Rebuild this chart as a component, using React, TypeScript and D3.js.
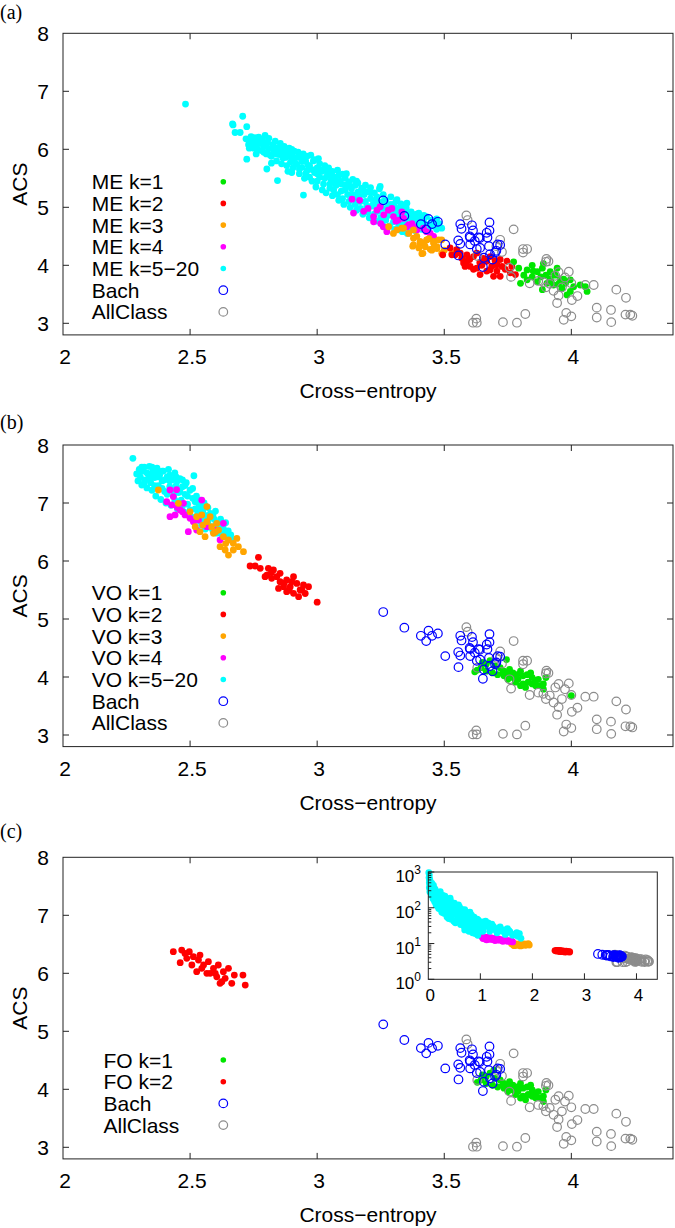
import React from 'react';
import * as d3 from 'd3';

type P = [number, number];

// ---------- axis / tick data ----------
const X_TICKS = [2, 2.5, 3, 3.5, 4];
const Y_TICKS = [3, 4, 5, 6, 7, 8];
const X_DOMAIN: [number, number] = [2, 4.4];
const Y_DOMAIN: [number, number] = [2.8, 8];
const INSET_X_TICKS = [0, 1, 2, 3, 4];
const INSET_Y_EXPONENTS = [0, 1, 2, 3];
const INSET_X_DOMAIN: [number, number] = [0, 4.4];
const INSET_Y_DOMAIN: [number, number] = [1, 1000];

// ---------- shared reference sets ----------
const BACH: P[] = [
  [3.26, 5.12], [3.343, 4.85], [3.408, 4.71], [3.429, 4.62], [3.438, 4.8], [3.452, 4.71], [3.475, 4.75],
  [3.504, 4.36], [3.556, 4.17], [3.555, 4.43], [3.563, 4.37], [3.563, 4.71], [3.568, 4.63], [3.609, 4.69],
  [3.613, 4.6], [3.602, 4.48], [3.602, 4.36], [3.6, 4.5], [3.62, 4.42], [3.635, 4.48], [3.628, 4.28],
  [3.641, 4.3], [3.652, 3.97], [3.678, 4.74], [3.678, 4.6], [3.67, 4.48], [3.676, 4.33], [3.656, 4.13],
  [3.68, 4.19], [3.69, 4.1], [3.71, 4.36], [3.705, 4.25], [3.7, 4.22], [3.64, 4.47], [3.667, 4.56], [3.72, 4.35],
];

const ALLCLASS: P[] = [
  [3.587, 4.86], [3.592, 4.78], [3.773, 4.62], [3.727, 4.23], [3.81, 4.28], [3.826, 4.28], [3.81, 4.22],
  [3.902, 4.11], [3.9, 4.06], [3.91, 4.07], [3.763, 3.8], [3.836, 3.69], [3.87, 3.73], [3.89, 3.71],
  [3.9, 3.62], [3.915, 3.68], [3.937, 3.82], [3.95, 3.88], [3.99, 3.89], [3.975, 3.79], [4.0, 3.69],
  [3.93, 3.56], [3.95, 3.48], [3.963, 3.62], [3.944, 3.35], [4.002, 3.4], [4.024, 3.47], [4.055, 3.66],
  [4.088, 3.66], [4.1, 3.27], [4.1, 3.1], [4.156, 3.23], [4.157, 3.02], [4.177, 3.58], [4.215, 3.44],
  [4.213, 3.15], [4.232, 3.15], [4.24, 3.13], [3.98, 3.18], [4.0, 3.12], [3.97, 3.06], [3.819, 3.16],
  [3.786, 3.01], [3.731, 3.02], [3.626, 3.08], [3.613, 3.01], [3.628, 3.01], [3.705, 4.33], [3.72, 4.44],
  [3.63, 4.16], [3.757, 3.96],
];

// ---------- panel (a): ME ----------
const ME_K1: P[] = [
  [3.773, 4.06], [3.793, 3.95], [3.8, 3.69], [3.826, 3.92], [3.846, 3.8], [3.866, 3.89], [3.886, 3.95],
  [3.9, 3.83], [3.917, 3.77], [3.937, 3.83], [3.957, 3.75], [3.977, 3.69], [3.963, 3.6], [3.983, 3.49],
  [4.009, 3.63], [4.035, 3.66], [4.055, 3.63], [4.062, 3.55], [3.886, 3.58], [3.866, 3.72], [3.826, 3.75],
  [3.846, 4.0], [3.904, 3.69], [3.93, 3.66], [3.944, 3.95], [3.996, 3.55], [3.89, 4.03], [3.917, 3.89],
  [3.813, 3.83], [3.996, 3.75], [3.85, 3.9], [3.88, 3.8], [3.92, 3.72], [3.95, 3.68], [3.97, 3.76],
];
const ME_K2: P[] = [
  [3.494, 4.18], [3.523, 4.3], [3.543, 4.18], [3.569, 4.12], [3.589, 4.07], [3.602, 3.98], [3.628, 3.95],
  [3.648, 4.0], [3.667, 4.07], [3.687, 3.98], [3.707, 3.9], [3.72, 3.81], [3.74, 3.93], [3.76, 3.87],
  [3.78, 3.84], [3.766, 3.98], [3.747, 4.07], [3.72, 4.1], [3.694, 3.81], [3.667, 3.9], [3.641, 3.84],
  [3.615, 3.93], [3.582, 3.98], [3.563, 4.21], [3.589, 4.18], [3.615, 4.15], [3.549, 4.27], [3.576, 4.04],
  [3.654, 4.12], [3.681, 4.15], [3.628, 4.21], [3.707, 4.01], [3.727, 3.98], [3.53, 4.18], [3.6, 4.1],
  [3.64, 4.05], [3.68, 3.92], [3.7, 4.08],
];
const ME_K3: P[] = [
  [3.281, 4.665], [3.314, 4.61], [3.333, 4.64], [3.379, 4.61], [3.392, 4.5], [3.379, 4.35], [3.412, 4.2],
  [3.405, 4.38], [3.431, 4.44], [3.458, 4.41], [3.471, 4.32], [3.49, 4.44], [3.451, 4.26], [3.425, 4.32],
  [3.379, 4.466], [3.405, 4.41], [3.432, 4.44], [3.458, 4.38], [3.478, 4.44], [3.376, 4.33], [3.416, 4.206],
  [3.445, 4.275], [3.471, 4.29], [3.49, 4.206], [3.53, 4.206], [3.34, 4.64], [3.36, 4.55], [3.3, 4.55],
  [3.42, 4.38], [3.46, 4.3], [3.5, 4.26], [3.44, 4.46], [3.4, 4.3],
];
const ME_K4: P[] = [
  [3.137, 5.14], [3.167, 5.12], [3.143, 4.9], [3.183, 4.93], [3.235, 4.95], [3.248, 5.01], [3.222, 4.84],
  [3.262, 4.87], [3.294, 4.98], [3.3, 4.84], [3.32, 4.78], [3.34, 4.81], [3.353, 4.665], [3.373, 4.72],
  [3.392, 4.61], [3.418, 4.64], [3.26, 4.665], [3.274, 4.58], [3.333, 4.92], [3.222, 4.75], [3.445, 4.55],
  [3.458, 4.5], [3.2, 4.98], [3.28, 4.95], [3.31, 4.76], [3.36, 4.7], [3.38, 4.66], [3.43, 4.58], [3.25, 4.72],
];
const ME_K5_20: P[] = [
  [2.482, 6.78], [2.669, 6.42], [2.707, 6.57], [2.667, 6.44], [2.677, 6.29], [2.697, 6.29], [2.723, 6.39],
  [2.723, 5.83], [2.733, 6.02], [2.802, 5.66], [2.844, 5.46], [2.946, 5.21],
  [2.72, 6.18], [2.73, 6.08], [2.74, 6.22], [2.745, 6.12], [2.75, 6.02], [2.755, 6.2], [2.76, 6.15], [2.76, 6.05],
  [2.77, 6.21], [2.775, 6.1], [2.78, 5.98], [2.785, 6.17], [2.79, 6.05], [2.795, 6.24], [2.8, 5.92], [2.805, 6.12], [2.81, 6.01], [2.81, 6.19],
  [2.82, 5.88], [2.825, 6.08], [2.83, 5.97], [2.835, 6.14], [2.84, 5.8], [2.845, 6.02], [2.85, 5.91], [2.855, 6.1], [2.86, 5.75], [2.86, 5.98],
  [2.87, 6.05], [2.875, 5.86], [2.88, 5.95], [2.885, 5.62], [2.89, 6.02], [2.895, 5.78], [2.9, 5.9], [2.905, 5.68], [2.91, 5.97], [2.91, 5.83],
  [2.92, 5.74], [2.925, 5.95], [2.93, 5.58], [2.935, 5.86], [2.94, 5.69], [2.945, 5.92], [2.95, 5.5], [2.955, 5.79], [2.96, 5.63], [2.96, 5.88],
  [2.97, 5.72], [2.975, 5.9], [2.98, 5.45], [2.985, 5.8], [2.99, 5.6], [2.995, 5.35], [3.0, 5.68], [3.005, 5.84], [3.01, 5.52], [3.01, 5.75],
  [3.02, 5.62], [3.025, 5.4], [3.03, 5.72], [3.035, 5.25], [3.04, 5.55], [3.045, 5.68], [3.05, 5.33], [3.055, 5.47], [3.06, 5.62], [3.06, 5.2],
  [3.07, 5.52], [3.075, 5.38], [3.08, 5.64], [3.085, 5.12], [3.09, 5.45], [3.095, 5.28], [3.1, 5.57], [3.105, 5.05], [3.11, 5.38], [3.11, 5.5],
  [3.12, 5.22], [3.125, 5.44], [3.13, 5.0], [3.135, 5.32], [3.14, 5.48], [3.145, 5.15], [3.15, 5.38], [3.155, 4.95], [3.16, 5.26], [3.16, 5.42],
  [3.17, 5.1], [3.175, 5.33], [3.18, 4.88], [3.185, 5.22], [3.19, 5.38], [3.195, 5.02], [3.2, 5.27], [3.205, 4.82], [3.21, 5.15], [3.21, 5.34],
  [3.22, 5.05], [3.225, 5.25], [3.23, 4.76], [3.235, 5.18], [3.24, 4.93], [3.245, 5.32], [3.25, 5.08], [3.255, 4.72], [3.26, 4.98], [3.26, 5.22],
  [3.27, 5.12], [3.275, 4.85], [3.28, 5.02], [3.285, 4.68], [3.29, 5.18], [3.295, 4.92], [3.3, 5.05], [3.305, 4.62], [3.31, 4.88], [3.31, 5.1],
  [3.32, 4.98], [3.325, 4.7], [3.33, 5.06], [3.335, 4.58], [3.34, 4.9], [3.345, 4.75], [3.35, 5.0], [3.355, 4.55], [3.36, 4.82],
  [3.37, 4.92], [3.375, 4.7], [3.38, 4.85], [3.385, 4.6], [3.39, 4.78], [3.4, 4.9], [3.405, 4.66], [3.41, 4.82],
  [3.42, 4.74], [3.43, 4.84], [3.44, 4.62], [3.45, 4.78], [3.46, 4.68], [3.47, 4.8], [3.48, 4.72], [3.49, 4.64],
  [3.248, 5.36], [3.314, 5.13], [3.353, 5.07],
  [2.73, 6.16], [2.75, 6.1], [2.765, 6.0], [2.78, 6.12], [2.79, 5.95], [2.8, 6.08], [2.815, 5.9], [2.83, 6.04],
  [2.84, 5.92], [2.85, 6.02], [2.865, 5.85], [2.87, 5.94], [2.88, 5.72], [2.89, 5.88], [2.9, 5.6], [2.9, 6.0],
  [2.915, 5.75], [2.92, 5.86], [2.93, 5.66], [2.94, 5.8], [2.95, 5.88], [2.955, 5.58], [2.965, 5.72], [2.97, 5.52],
  [2.98, 5.65], [2.99, 5.82], [3.0, 5.45], [3.0, 5.58], [3.015, 5.64], [3.02, 5.3], [3.03, 5.5], [3.04, 5.64],
  [3.05, 5.4], [3.055, 5.58], [3.065, 5.3], [3.07, 5.45], [3.08, 5.22], [3.085, 5.55], [3.095, 5.4], [3.1, 5.15],
  [3.11, 5.3], [3.115, 5.58], [3.125, 5.1], [3.13, 5.36], [3.14, 5.22], [3.15, 5.05], [3.155, 5.45], [3.165, 5.18],
  [3.17, 4.98], [3.18, 5.3], [3.19, 5.1], [3.2, 4.92], [3.21, 5.25], [3.215, 5.02], [3.225, 4.88], [3.23, 5.12],
  [3.24, 5.02], [3.25, 4.82], [3.26, 5.1], [3.27, 4.78], [3.28, 4.92], [3.29, 5.05], [3.3, 4.75], [3.31, 4.98],
  [3.32, 4.66], [3.33, 4.85], [3.34, 4.98], [3.35, 4.68], [3.36, 4.92], [3.37, 4.62], [3.38, 4.76], [3.39, 4.88],
  [3.4, 4.72], [3.41, 4.62], [3.42, 4.86], [3.44, 4.7], [3.46, 4.76], [3.47, 4.62], [2.76, 5.92], [2.82, 5.76],
];

// ---------- panel (b): VO ----------
const VO_K1: P[] = [
  [3.63, 4.12], [3.645, 4.16], [3.665, 4.22], [3.68, 4.28], [3.7, 4.19], [3.72, 4.16], [3.735, 4.1],
  [3.74, 4.04], [3.757, 4.13], [3.77, 4.07], [3.786, 4.04], [3.8, 4.1], [3.81, 4.02], [3.826, 4.04],
  [3.84, 4.07], [3.846, 3.99], [3.83, 3.91], [3.81, 3.88], [3.79, 3.96], [3.77, 3.99], [3.75, 3.96],
  [3.735, 4.02], [3.71, 4.04], [3.69, 4.07], [3.86, 3.94], [3.87, 3.96], [3.89, 3.88], [3.89, 3.79],
  [3.877, 3.85], [3.86, 3.85], [3.82, 3.82], [3.8, 3.85], [3.78, 3.91], [3.757, 4.04], [3.73, 4.07],
  [3.665, 4.1], [3.65, 4.25], [3.745, 4.3], [3.846, 3.88], [3.9, 3.99], [4.0, 3.68], [3.62, 4.09],
];
const VO_K2: P[] = [
  [2.736, 5.914], [2.769, 6.063], [2.776, 5.874], [2.808, 5.874], [2.795, 5.73], [2.828, 5.845], [2.841, 5.73],
  [2.854, 5.643], [2.88, 5.672], [2.894, 5.557], [2.907, 5.73], [2.92, 5.614], [2.933, 5.5], [2.953, 5.44],
  [2.966, 5.557], [2.946, 5.586], [2.88, 5.471], [2.868, 5.557], [2.821, 5.701], [2.848, 5.528], [2.907, 5.442],
  [2.927, 5.385], [2.9, 5.643], [3.0, 5.29], [2.854, 5.787], [2.802, 5.758], [2.756, 5.914], [2.87, 5.62],
  [2.89, 5.5], [2.94, 5.5], [2.82, 5.8],
];
const VO_K3: P[] = [
  [2.375, 7.224], [2.454, 6.994], [2.5, 6.851], [2.526, 6.765], [2.546, 6.794], [2.566, 6.678], [2.52, 6.592],
  [2.539, 6.506], [2.579, 6.765], [2.592, 6.477], [2.612, 6.534], [2.631, 6.42], [2.651, 6.362], [2.67, 6.305],
  [2.69, 6.247], [2.651, 6.103], [2.618, 6.247], [2.638, 6.19], [2.71, 6.16], [2.566, 6.937], [2.605, 6.649],
  [2.559, 6.42], [2.585, 6.592], [2.67, 6.19], [2.684, 6.39], [2.55, 6.62], [2.6, 6.5], [2.64, 6.3],
];
const VO_K4: P[] = [
  [2.421, 7.224], [2.447, 7.23], [2.434, 7.11], [2.428, 6.966], [2.461, 6.88], [2.474, 6.994], [2.48, 6.794],
  [2.5, 6.736], [2.513, 6.678], [2.533, 6.707], [2.441, 6.794], [2.421, 6.765], [2.546, 7.05], [2.526, 6.534],
  [2.493, 6.506], [2.566, 6.592], [2.631, 6.65], [2.618, 6.362], [2.598, 6.534], [2.408, 7.023], [2.45, 6.92],
  [2.47, 6.85],
];
const VO_K5_20: P[] = [
  [2.275, 7.77], [2.29, 7.5], [2.295, 7.38], [2.3, 7.58], [2.305, 7.44], [2.31, 7.31], [2.315, 7.55], [2.32, 7.62],
  [2.325, 7.4], [2.33, 7.26], [2.335, 7.5], [2.34, 7.63], [2.345, 7.35], [2.35, 7.22], [2.355, 7.56], [2.36, 7.44],
  [2.365, 7.12], [2.37, 7.6], [2.375, 7.3], [2.38, 7.48], [2.385, 7.06], [2.39, 7.38], [2.395, 7.55], [2.4, 7.2],
  [2.405, 7.0], [2.41, 7.45], [2.415, 7.58], [2.42, 7.28], [2.425, 6.96], [2.43, 7.4], [2.435, 7.12], [2.44, 7.52],
  [2.445, 7.3], [2.45, 6.9], [2.455, 7.18], [2.46, 7.42], [2.465, 7.05], [2.47, 7.28], [2.475, 6.85], [2.48, 7.15],
  [2.485, 7.35], [2.49, 6.98], [2.5, 7.22], [2.505, 6.76], [2.51, 7.08], [2.515, 7.47], [2.52, 6.9], [2.525, 7.12],
  [2.53, 6.7], [2.535, 6.98], [2.54, 7.05], [2.545, 6.62], [2.55, 6.85], [2.555, 7.0], [2.56, 6.55], [2.565, 6.78],
  [2.57, 6.92], [2.575, 6.6], [2.58, 6.82], [2.59, 6.52], [2.595, 6.72], [2.6, 6.86], [2.605, 6.48], [2.61, 6.64],
  [2.62, 6.72], [2.625, 6.46], [2.63, 6.58], [2.64, 6.66], [2.645, 6.42], [2.65, 6.52], [2.66, 6.45], [2.66, 6.38],
  [2.3, 7.5], [2.31, 7.62], [2.32, 7.35], [2.33, 7.52], [2.34, 7.42], [2.35, 7.62], [2.36, 7.3], [2.37, 7.45],
  [2.38, 7.25], [2.39, 7.55], [2.4, 7.4], [2.41, 7.15], [2.42, 7.48], [2.43, 7.22], [2.44, 7.05], [2.45, 7.38],
  [2.46, 7.2], [2.47, 6.95], [2.48, 7.3], [2.49, 7.12], [2.5, 6.88], [2.51, 7.25], [2.52, 7.02], [2.53, 6.82],
  [2.54, 6.92], [2.55, 6.72], [2.56, 6.95], [2.57, 6.68], [2.58, 6.58], [2.59, 6.8], [2.6, 6.62], [2.61, 6.5],
  [2.62, 6.58], [2.635, 6.48], [2.345, 7.5], [2.365, 7.55], [2.39, 7.25], [2.42, 7.38], [2.445, 7.45], [2.47, 7.4],
];

// ---------- panel (c): FO ----------
const FO_K1: P[] = [
  [3.63, 4.12], [3.645, 4.16], [3.665, 4.22], [3.68, 4.28], [3.7, 4.19], [3.72, 4.16], [3.735, 4.1],
  [3.74, 4.04], [3.757, 4.13], [3.77, 4.07], [3.786, 4.04], [3.8, 4.1], [3.81, 4.02], [3.826, 4.04],
  [3.84, 4.07], [3.846, 3.99], [3.83, 3.91], [3.81, 3.88], [3.79, 3.96], [3.77, 3.99], [3.75, 3.96],
  [3.735, 4.02], [3.71, 4.04], [3.69, 4.07], [3.86, 3.94], [3.87, 3.96], [3.89, 3.88], [3.89, 3.79],
  [3.877, 3.85], [3.86, 3.85], [3.82, 3.82], [3.8, 3.85], [3.78, 3.91], [3.757, 4.04], [3.73, 4.07],
  [3.665, 4.1], [3.65, 4.25], [3.695, 4.33], [3.846, 3.88], [3.9, 3.99],
];
const FO_K2: P[] = [
  [2.434, 6.372], [2.467, 6.4], [2.497, 6.372], [2.461, 6.183], [2.487, 6.258], [2.513, 6.287], [2.533, 6.229],
  [2.553, 6.143], [2.572, 6.2], [2.526, 6.028], [2.566, 5.999], [2.592, 6.086], [2.611, 6.143], [2.605, 5.94],
  [2.631, 6.028], [2.625, 5.856], [2.618, 5.828], [2.638, 5.913], [2.664, 5.828], [2.674, 5.97], [2.708, 5.97],
  [2.717, 5.797], [2.507, 6.143], [2.546, 6.086], [2.579, 5.999], [2.48, 6.343], [2.539, 6.315], [2.599, 5.999],
  [2.651, 6.086],
];

// ---------- inset (FO, all k, log ACS) ----------
const INSET_K5_20: P[] = [
  [0.01, 960], [0.02, 820], [0.015, 700], [0.03, 600], [0.02, 500], [0.04, 520], [0.03, 420], [0.05, 450],
  [0.02, 360], [0.04, 330], [0.06, 380], [0.03, 280], [0.05, 260], [0.08, 300], [0.07, 220], [0.1, 420],
  [0.1, 250], [0.09, 180], [0.12, 200], [0.13, 330], [0.14, 140], [0.16, 260], [0.17, 160], [0.18, 110],
  [0.2, 210], [0.22, 130], [0.23, 280], [0.25, 90], [0.27, 170], [0.29, 120], [0.3, 70], [0.32, 210],
  [0.34, 100], [0.36, 55], [0.38, 150], [0.4, 80], [0.42, 185], [0.44, 48], [0.46, 120], [0.48, 65],
  [0.5, 135], [0.52, 38], [0.55, 90], [0.57, 52], [0.6, 105], [0.62, 34], [0.65, 70], [0.68, 42],
  [0.7, 88], [0.72, 28], [0.75, 58], [0.78, 22], [0.8, 75], [0.82, 36], [0.85, 26], [0.88, 55],
  [0.9, 19], [0.93, 32], [0.96, 45], [1.0, 22], [1.03, 40], [1.06, 28], [1.1, 42], [1.13, 30],
  [1.18, 22], [1.22, 35], [1.27, 25], [1.32, 20], [1.38, 29], [1.42, 22], [1.48, 18], [1.52, 26],
  [1.57, 21], [1.62, 17], [1.7, 20], [1.75, 19], [1.78, 14],
  [0.02, 640], [0.04, 400], [0.06, 300], [0.07, 480], [0.08, 230], [0.11, 330], [0.12, 150], [0.15, 200],
  [0.15, 120], [0.19, 170], [0.2, 95], [0.21, 240], [0.24, 150], [0.26, 75], [0.28, 220], [0.31, 95],
  [0.33, 160], [0.35, 65], [0.37, 120], [0.39, 50], [0.41, 100], [0.43, 150], [0.45, 60], [0.47, 90],
  [0.49, 42], [0.51, 110], [0.53, 70], [0.56, 46], [0.58, 120], [0.59, 62], [0.63, 45], [0.64, 90],
  [0.67, 55], [0.69, 30], [0.71, 66], [0.74, 40], [0.76, 26], [0.79, 50], [0.83, 62], [0.84, 30],
  [0.87, 40], [0.91, 24], [0.94, 48], [0.98, 30], [1.01, 36], [1.05, 22], [1.08, 33], [1.15, 38],
  [1.2, 27], [1.25, 30], [1.3, 24], [1.35, 27], [1.45, 24], [1.5, 20], [1.55, 23], [1.65, 18],
  [1.72, 16], [0.85, 20], [0.95, 17], [0.7, 24],
];
const INSET_K4: P[] = [
  [1.03, 15.5], [1.05, 13.8], [1.08, 14.8], [1.1, 13.2], [1.13, 15], [1.15, 14], [1.18, 13], [1.2, 14.5],
  [1.22, 13.6], [1.25, 12.8], [1.27, 14], [1.3, 13.3], [1.32, 12.5], [1.35, 13.5], [1.37, 12.4], [1.4, 12.9],
  [1.42, 12], [1.45, 12.7], [1.48, 11.8], [1.5, 12.3], [1.53, 11.6], [1.55, 12.1], [1.58, 11.3], [1.6, 11.8],
  [1.62, 11.1], [1.12, 12.7], [1.28, 12.1], [1.43, 11.5],
];
const INSET_K3: P[] = [
  [1.6, 9.8], [1.63, 9.2], [1.66, 10], [1.68, 9.4], [1.7, 8.9], [1.73, 9.7], [1.75, 9.1], [1.78, 9.5],
  [1.8, 8.8], [1.83, 9.3], [1.85, 9.8], [1.87, 8.9], [1.9, 9.4], [1.92, 9.9], [1.94, 9.1], [1.65, 8.7], [1.77, 8.6],
];

// ---------- styles ----------
const C_GREEN = '#00e600';
const C_RED = '#ff0000';
const C_ORANGE = '#ffa500';
const C_MAGENTA = '#ff00ff';
const C_CYAN = '#00ffff';
const C_BLUE = '#0000ff';
const C_GRAY = '#8c8c8c';
const FONT = '"Liberation Sans", Arial, Helvetica, sans-serif';
const SERIF = '"Liberation Serif", "Times New Roman", serif';

const FL = 63;
const FR = 673;
const PH = 301.6;
const DOT_R = 3.4;
const CIRC_R = 4.3;
const TICK = 6;
const ROW = 21.7;

type Series = { name: string; data: P[]; color: string; open?: boolean };

const seriesA: Series[] = [
  { name: 'ME k=1', data: ME_K1, color: C_GREEN },
  { name: 'ME k=2', data: ME_K2, color: C_RED },
  { name: 'ME k=3', data: ME_K3, color: C_ORANGE },
  { name: 'ME k=4', data: ME_K4, color: C_MAGENTA },
  { name: 'ME k=5\u221220', data: ME_K5_20, color: C_CYAN },
  { name: 'Bach', data: BACH, color: C_BLUE, open: true },
  { name: 'AllClass', data: ALLCLASS, color: C_GRAY, open: true },
];
const seriesB: Series[] = [
  { name: 'VO k=1', data: VO_K1, color: C_GREEN },
  { name: 'VO k=2', data: VO_K2, color: C_RED },
  { name: 'VO k=3', data: VO_K3, color: C_ORANGE },
  { name: 'VO k=4', data: VO_K4, color: C_MAGENTA },
  { name: 'VO k=5\u221220', data: VO_K5_20, color: C_CYAN },
  { name: 'Bach', data: BACH, color: C_BLUE, open: true },
  { name: 'AllClass', data: ALLCLASS, color: C_GRAY, open: true },
];
const seriesC: Series[] = [
  { name: 'FO k=1', data: FO_K1, color: C_GREEN },
  { name: 'FO k=2', data: FO_K2, color: C_RED },
  { name: 'Bach', data: BACH, color: C_BLUE, open: true },
  { name: 'AllClass', data: ALLCLASS, color: C_GRAY, open: true },
];
const seriesInset: Series[] = [
  { name: 'k5', data: INSET_K5_20, color: C_CYAN },
  { name: 'k4', data: INSET_K4, color: C_MAGENTA },
  { name: 'k3', data: INSET_K3, color: C_ORANGE },
  { name: 'k2', data: FO_K2, color: C_RED },
  { name: 'k1', data: FO_K1, color: C_GREEN },
  { name: 'AllClass', data: ALLCLASS, color: C_GRAY, open: true },
  { name: 'Bach', data: BACH, color: C_BLUE, open: true },
];

// drawing order: high k first, k=1 later, then AllClass, then Bach on top
function drawOrder(s: Series[]): Series[] {
  const filled = s.filter((d) => !d.open).slice().reverse();
  const all = s.filter((d) => d.name === 'AllClass');
  const bach = s.filter((d) => d.name === 'Bach');
  return [...filled, ...all, ...bach];
}

function Marks({ s, x, y }: { s: Series; x: (v: number) => number; y: (v: number) => number }) {
  return (
    <g>
      {s.data.map((d, i) =>
        s.open ? (
          <circle key={i} cx={x(d[0])} cy={y(d[1])} r={CIRC_R} fill="none" stroke={s.color} strokeWidth={1.2} />
        ) : (
          <circle key={i} cx={x(d[0])} cy={y(d[1])} r={DOT_R} fill={s.color} />
        )
      )}
    </g>
  );
}

function Inset() {
  const L = 428.3, R = 657.3, T = 872, B = 979.3;
  const x = d3.scaleLinear().domain(INSET_X_DOMAIN).range([L, R]);
  const y = d3.scaleLog().domain(INSET_Y_DOMAIN).range([B, T]);
  const minor: number[] = [];
  for (let e = 0; e < 3; e++) for (let m = 2; m <= 9; m++) minor.push(m * Math.pow(10, e));
  return (
    <g>
      <rect x={L} y={T} width={R - L} height={B - T} fill="#fff" />
      {drawOrder(seriesInset).map((s, i) => (
        <Marks key={i} s={s} x={x} y={y} />
      ))}
      <rect x={L} y={T} width={R - L} height={B - T} fill="none" stroke="#222" strokeWidth={1} />
      {INSET_X_TICKS.map((t) => (
        <g key={t}>
          {t > 0 && <line x1={x(t)} x2={x(t)} y1={B} y2={B - TICK} stroke="#222" />}
          <text x={x(t) + 2} y={B + 22} fontSize={17} fontFamily={FONT} textAnchor="middle">
            {t}
          </text>
        </g>
      ))}
      {minor.map((m) => (
        <line key={m} x1={L} x2={L + 3} y1={y(m)} y2={y(m)} stroke="#222" />
      ))}
      {INSET_Y_EXPONENTS.map((e) => (
        <g key={e}>
          <line x1={L} x2={L + TICK} y1={y(Math.pow(10, e))} y2={y(Math.pow(10, e))} stroke="#222" />
          <text x={421} y={y(Math.pow(10, e)) + 10} fontSize={17} fontFamily={FONT} textAnchor="end">
            10
            <tspan fontSize={12} dy={-8}>
              {e}
            </tspan>
          </text>
        </g>
      ))}
    </g>
  );
}

type PanelCfg = {
  top: number;
  label: string;
  labelY: number;
  series: Series[];
  legendX: number;
  legendY0: number;
  inset?: boolean;
};

function Panel({ cfg }: { cfg: PanelCfg }) {
  const top = cfg.top;
  const bottom = top + PH;
  const x = d3.scaleLinear().domain(X_DOMAIN).range([FL, FR]);
  const y = d3.scaleLinear().domain(Y_DOMAIN).range([bottom, top]);
  const legendMarkX = 223.3;
  return (
    <g>
      <text x={0} y={cfg.labelY} fontSize={20} fontFamily={SERIF}>
        {cfg.label}
      </text>
      {drawOrder(cfg.series).map((s, i) => (
        <Marks key={i} s={s} x={x} y={y} />
      ))}
      <rect x={FL} y={top} width={FR - FL} height={PH} fill="none" stroke="#222" strokeWidth={1} />
      {X_TICKS.map((t) => (
        <g key={t}>
          {t > X_DOMAIN[0] && (
            <>
              <line x1={x(t)} x2={x(t)} y1={bottom} y2={bottom - TICK} stroke="#222" />
              <line x1={x(t)} x2={x(t)} y1={top} y2={top + TICK} stroke="#222" />
            </>
          )}
          <text x={x(t) + 2} y={bottom + 29} fontSize={21} fontFamily={FONT} textAnchor="middle">
            {t}
          </text>
        </g>
      ))}
      {Y_TICKS.map((t) => (
        <g key={t}>
          {t < Y_DOMAIN[1] && (
            <>
              <line x1={FL} x2={FL + TICK} y1={y(t)} y2={y(t)} stroke="#222" />
              <line x1={FR} x2={FR - TICK} y1={y(t)} y2={y(t)} stroke="#222" />
            </>
          )}
          <text x={49} y={y(t) + 7.5} fontSize={21} fontFamily={FONT} textAnchor="end">
            {t}
          </text>
        </g>
      ))}
      <text
        x={27}
        y={(top + bottom) / 2}
        fontSize={21}
        fontFamily={FONT}
        textAnchor="middle"
        transform={`rotate(-90 27 ${(top + bottom) / 2})`}
      >
        ACS
      </text>
      <text x={(FL + FR) / 2} y={bottom + 63} fontSize={21} fontFamily={FONT} textAnchor="middle">
        {'Cross\u2212entropy'}
      </text>
      {cfg.series.map((s, i) => {
        const cy = cfg.legendY0 + i * ROW;
        return (
          <g key={s.name}>
            <text x={cfg.legendX} y={cy + 7.5} fontSize={21} fontFamily={FONT}>
              {s.name}
            </text>
            {s.open ? (
              <circle cx={legendMarkX} cy={cy} r={CIRC_R} fill="none" stroke={s.color} strokeWidth={1.2} />
            ) : (
              <circle cx={legendMarkX} cy={cy} r={2.8} fill={s.color} />
            )}
          </g>
        );
      })}
      {cfg.inset && <Inset />}
    </g>
  );
}

const PANELS: PanelCfg[] = [
  { top: 33.3, label: '(a)', labelY: 18.5, series: seriesA, legendX: 91.7, legendY0: 181.7 },
  { top: 445, label: '(b)', labelY: 429, series: seriesB, legendX: 91.7, legendY0: 592.7 },
  { top: 857.3, label: '(c)', labelY: 838, series: seriesC, legendX: 103.5, legendY0: 1060, inset: true },
];

export default function App() {
  return (
    <svg
      width={675}
      height={1228}
      viewBox="0 0 675 1228"
      style={{ position: 'absolute', left: 0, top: 0, background: '#fff' }}
    >
      <rect x={0} y={0} width={675} height={1228} fill="#fff" />
      {PANELS.map((p) => (
        <Panel key={p.label} cfg={p} />
      ))}
    </svg>
  );
}
